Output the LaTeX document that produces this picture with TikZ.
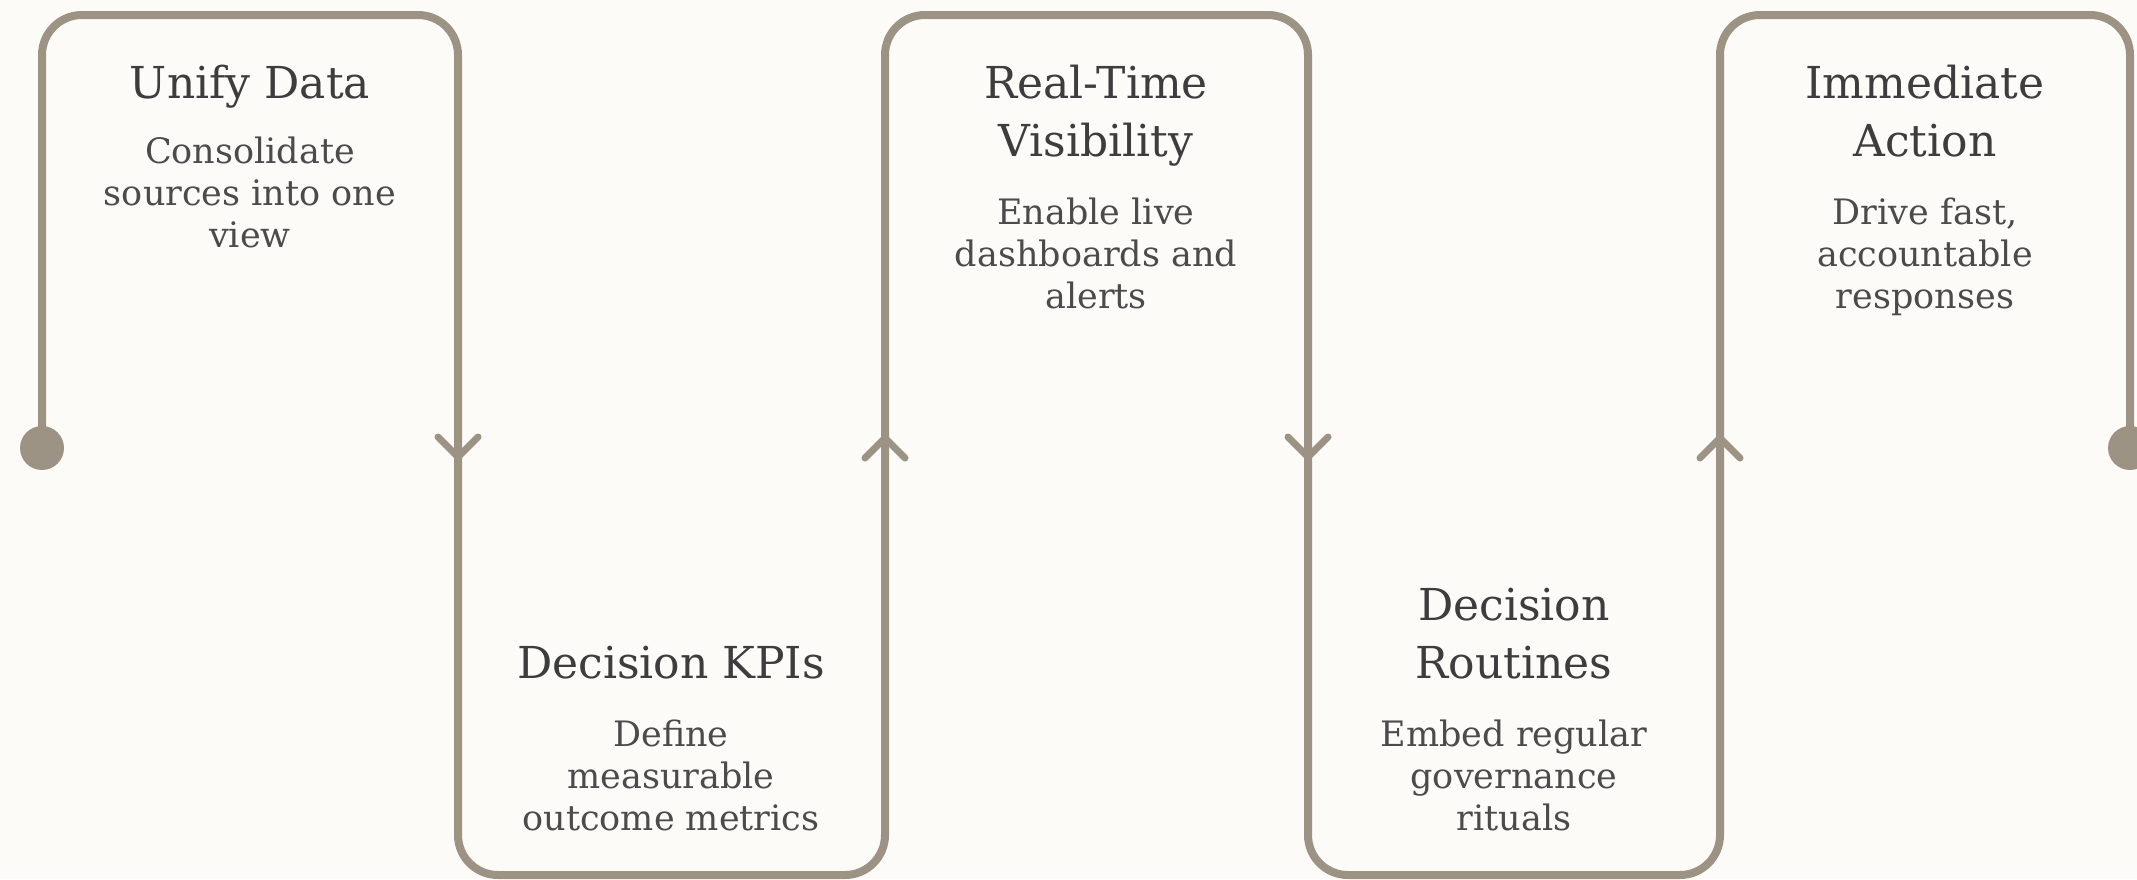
\documentclass[tikz,border=0pt]{standalone}
\usepackage{fontspec}
\setmainfont{DejaVu Serif}
\definecolor{trackcol}{HTML}{9C9384}
\definecolor{bgcol}{HTML}{FCFBF7}
\definecolor{titlecol}{HTML}{3D3D3D}
\definecolor{blurbcol}{HTML}{4B4B4B}
\tikzstyle{track}=[draw=trackcol,line width=4pt,rounded corners=20pt]
\tikzstyle{chevron}=[draw=trackcol,line width=3.5pt,line cap=round,line join=round]
\tikzstyle{event}=[circle,fill=trackcol,inner sep=0pt,minimum size=22pt]
\tikzstyle{title}=[anchor=base,align=center,inner sep=0pt,text=titlecol,font=\fontsize{22}{29}\selectfont]
\tikzstyle{blurb}=[anchor=base,align=center,inner sep=0pt,text=blurbcol,font=\fontsize{17.5}{21}\selectfont]

\begin{document}
\begin{tikzpicture}[x=0.5pt,y=-0.5pt]
                  \path [fill=bgcol,use as bounding box] (0,0) rectangle (2137,879);

                  \node (start) at (42,448) [event] {};
                  \node (finish) at (2130,448) [event] {};

                  \draw [track] (start.center) -- (42,15) -- (458,15) -- (458,875) -- (885,875)
                                -- (885,15) -- (1308,15) -- (1308,875) -- (1720,875)
                                -- (1720,15) -- (2130,15) -- (finish.center);

                  \coordinate (m1) at (458,457);
                  \coordinate (m2) at (885,438);
                  \coordinate (m3) at (1308,457);
                  \coordinate (m4) at (1720,438);

                  \draw [chevron] (m1) ++(-20,-20) -- (m1) -- ++(20,-20);
                  \draw [chevron] (m2) ++(-20,20) -- (m2) -- ++(20,20);
                  \draw [chevron] (m3) ++(-20,-20) -- (m3) -- ++(20,-20);
                  \draw [chevron] (m4) ++(-20,20) -- (m4) -- ++(20,20);

                  \node (unify) at (250,98) [title] {Unify Data};
                  \node (unifytxt) at (250,247) [blurb] {Consolidate\\sources into one\\view};

                  \node (kpis) at (671,678) [title] {Decision KPIs};
                  \node (kpistxt) at (671,830) [blurb] {Define\\measurable\\outcome metrics};

                  \node (realtime) at (1096,156) [title] {Real-Time\\Visibility};
                  \node (realtimetxt) at (1096,308) [blurb] {Enable live\\dashboards and\\alerts};

                  \node (routines) at (1514,678) [title] {Decision\\Routines};
                  \node (routinestxt) at (1514,830) [blurb] {Embed regular\\governance\\rituals};

                  \node (action) at (1925,156) [title] {Immediate\\Action};
                  \node (actiontxt) at (1925,308) [blurb] {Drive fast,\\accountable\\responses};
              \end{tikzpicture}
\end{document}
